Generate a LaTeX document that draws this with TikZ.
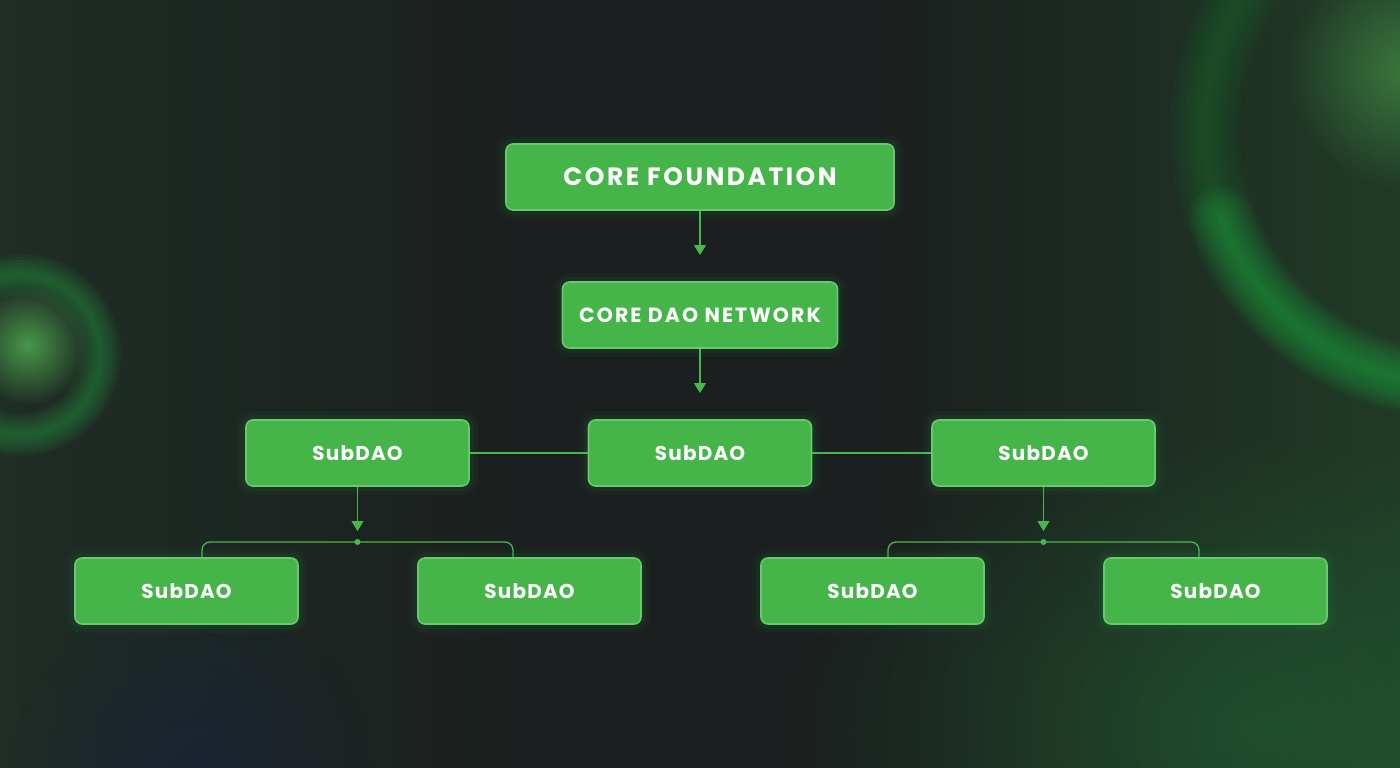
\documentclass[tikz,border=0pt]{standalone}
\usepackage{fontspec}
\setmainfont{Poppins}
\newfontfamily\headfont[LetterSpace=10]{Poppins}
\newfontfamily\subfont[LetterSpace=6]{Poppins}
\usetikzlibrary{arrows.meta,calc,fadings}
\definecolor{bgdark}{RGB}{27,31,31}
\definecolor{bgleft}{RGB}{31,45,37}
\definecolor{bgright}{RGB}{32,58,38}
\definecolor{boxgreen}{RGB}{69,181,74}
\definecolor{rimgreen}{RGB}{106,200,110}
\definecolor{glowgreen}{RGB}{38,160,68}
\definecolor{wiregreen}{RGB}{72,184,76}
\definecolor{ringlight}{RGB}{80,170,80}
\tikzfading[name=softglow, inner color=transparent!0, outer color=transparent!100]
\tikzset{
  wire/.style={wiregreen,line width=1.3pt},
  flow/.style={wire,-{Triangle[length=10pt,width=12pt]}},
  box/.style={draw=rimgreen,line width=1.6pt,fill=boxgreen,rounded corners=7pt,
              minimum height=66pt,minimum width=223pt,inner sep=0pt,text=white,
              font=\subfont\bfseries\fontsize{20}{20}\selectfont,
              preaction={draw=glowgreen,line width=18pt,draw opacity=0.05},
              preaction={draw=glowgreen,line width=10pt,draw opacity=0.08}},
  headbox/.style={box,minimum width=388pt,font=\headfont\bfseries\fontsize{25}{25}\selectfont},
  netbox/.style={box,minimum width=275pt,font=\headfont\bfseries\fontsize{20.5}{20.5}\selectfont},
  halo/.style={line width=#1,draw opacity=0.08},
}

\begin{document}
\begin{tikzpicture}[x=1pt,y=-1pt]
  \useasboundingbox (0,0) rectangle (1400,768);
  \clip (0,0) rectangle (1400,768);

  % background
  \fill[bgdark] (0,0) rectangle (1400,768);
  \shade[left color=bgleft,right color=bgdark] (0,0) rectangle (520,768);
  \shade[left color=bgdark,right color=bgright] (880,0) rectangle (1400,768);
  \fill[glowgreen,path fading=softglow,opacity=0.25] (1260,730) ellipse (480 and 300);
  \fill[blue!30!bgdark,path fading=softglow,opacity=0.25] (190,768) circle (180);

  % left ring
  \foreach \w in {6,12,...,42}
    \draw[glowgreen,halo=\w pt] (20,355) circle (80);
  \fill[ringlight,path fading=softglow,opacity=0.85] (28,345) circle (60);

  % right ring
  \foreach \w in {10,20,...,70}
    \draw[glowgreen!70!black,halo=\w pt] (1460,130) circle (255);
  \foreach \w in {8,16,...,64}
    \draw[glowgreen,halo=\w pt,line cap=round]
      plot[domain=200:285,samples=40] ({1460+255*cos(\x)},{130-255*sin(\x)});
  \fill[ringlight,path fading=softglow,opacity=0.55] (1405,70) circle (120);

  % boxes
  \node[headbox] (found) at (700,177) {CORE FOUNDATION};
  \node[netbox] (net) at (700,315) {CORE DAO NETWORK};
  \node[box] (subL) at (357.5,453) {SubDAO};
  \node[box] (subM) at (700,453) {SubDAO};
  \node[box] (subR) at (1043.5,453) {SubDAO};
  \node[box] (leafA) at (186.5,591) {SubDAO};
  \node[box] (leafB) at (529.5,591) {SubDAO};
  \node[box] (leafC) at (872.5,591) {SubDAO};
  \node[box] (leafD) at (1215.5,591) {SubDAO};

  \coordinate (tipF) at (700,255);
  \coordinate (tipN) at (700,393);
  \coordinate (tipL) at (357.5,531);
  \coordinate (tipR) at (1043.5,531);
  \coordinate (joinL) at (357.5,542);
  \coordinate (joinR) at (1043.5,542);

  % connectors
  \draw[flow] (found.south) -- (tipF);
  \draw[flow] (net.south) -- (tipN);
  \draw[wire] (subL.east) -- (subM.west);
  \draw[wire] (subM.east) -- (subR.west);
  \draw[flow] (subL.south) -- (tipL);
  \draw[flow] (subR.south) -- (tipR);
  \draw[wire,rounded corners=8pt] ([xshift=15.5pt]leafA.north) |- (joinL) -| ([xshift=-16.5pt]leafB.north);
  \draw[wire,rounded corners=8pt] ([xshift=15.5pt]leafC.north) |- (joinR) -| ([xshift=-16.5pt]leafD.north);
  \fill[wiregreen] (joinL) circle (3);
  \fill[wiregreen] (joinR) circle (3);
\end{tikzpicture}
\end{document}
